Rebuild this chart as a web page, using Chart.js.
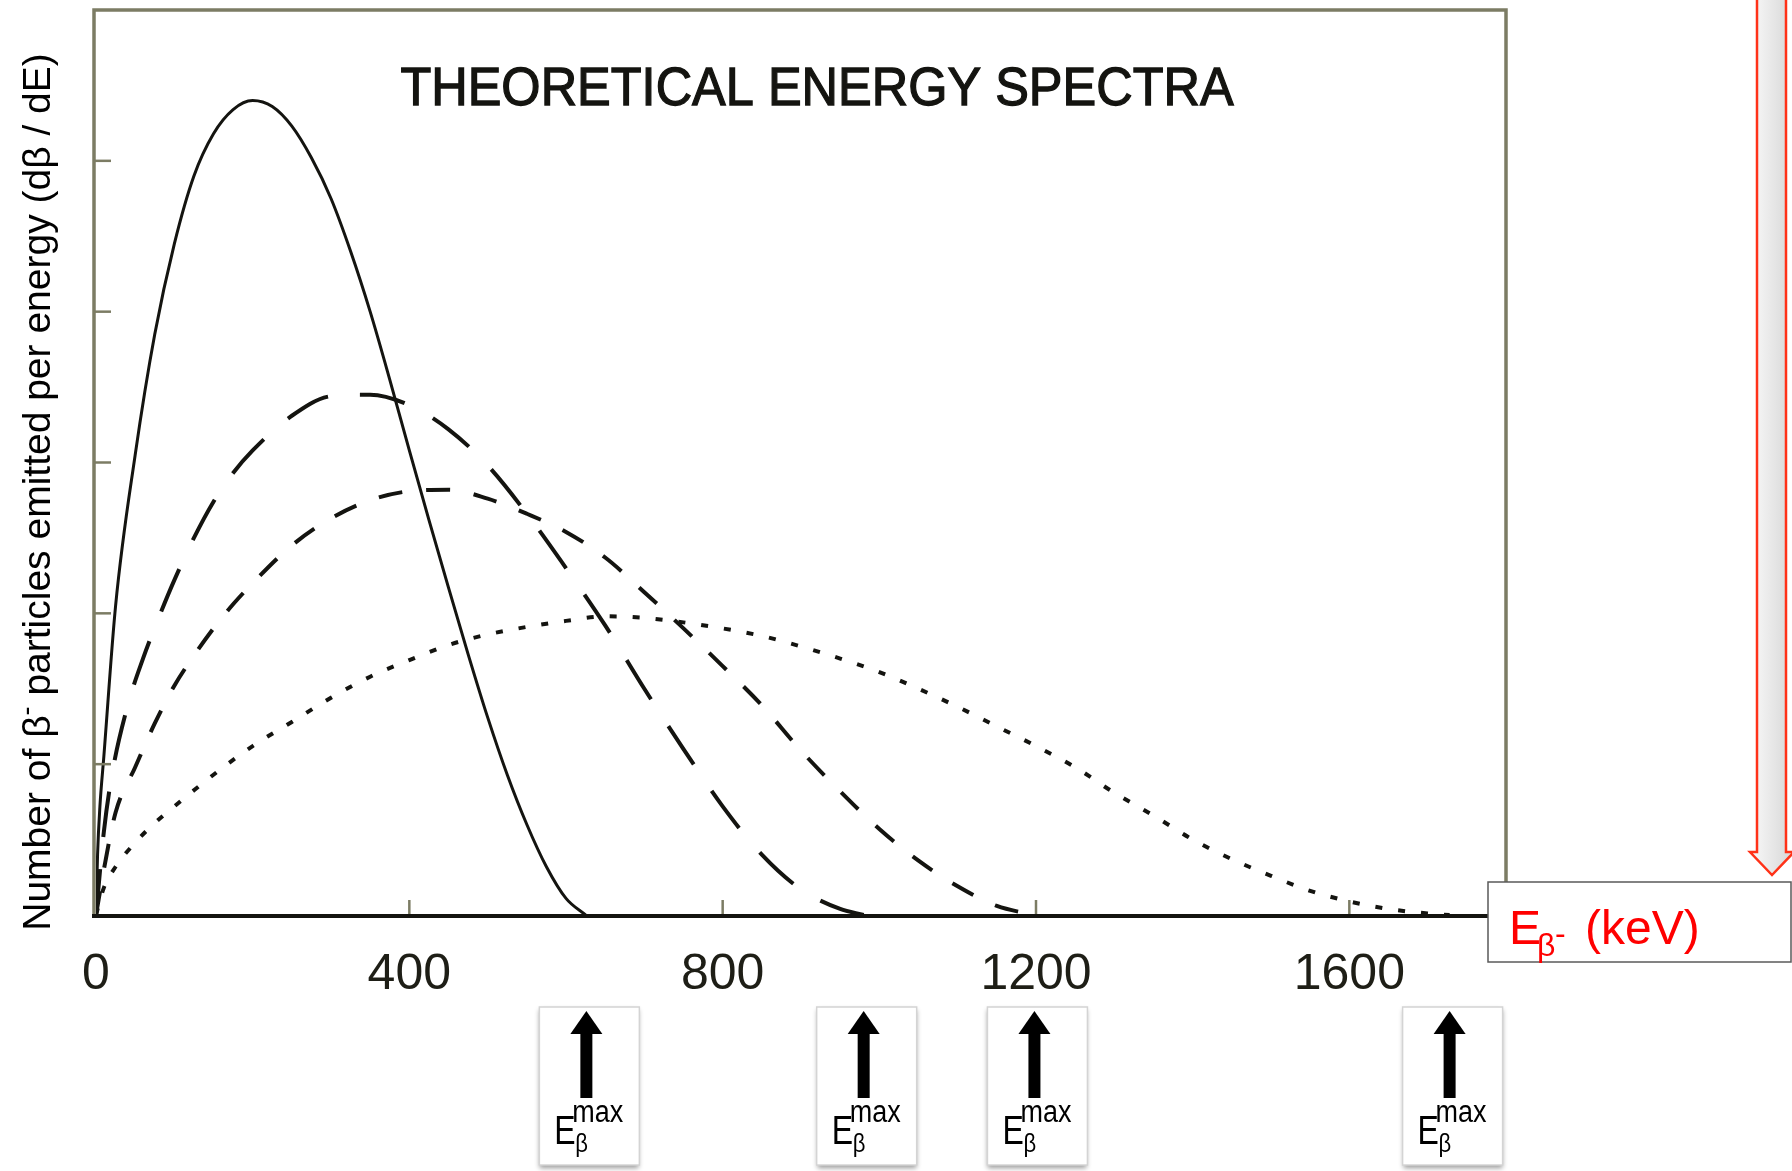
<!DOCTYPE html>
<html lang="en">
<head>
  <meta charset="UTF-8" />
  <title>Theoretical Energy Spectra</title>
  <style>
    body {
      margin: 0;
      background: #ffffff;
    }
    #spectra {
      display: block;
    }
  </style>
</head>
<body>
  <canvas id="spectra" width="1792" height="1171"></canvas>

  <script src="https://cdn.jsdelivr.net/npm/chart.js"></script>
  <script>
    // beta energy (keV) and dβ/dE for each spectrum
    const solidE = [0, 2, 5, 10, 25, 50, 75, 100, 125, 150, 175, 200, 225, 250, 275, 300, 325, 350, 375, 400, 425, 450, 475, 500, 525, 550, 575, 600, 625];
    const solidN = [0, 0.40, 0.72, 1.05, 2.05, 3.05, 3.85, 4.45, 4.90, 5.18, 5.34, 5.40, 5.36, 5.23, 5.02, 4.75, 4.40, 4.00, 3.55, 3.08, 2.62, 2.17, 1.73, 1.31, 0.93, 0.60, 0.32, 0.11, 0];

    const longE = [0, 10, 20, 40, 60, 80, 100, 125, 150, 175, 200, 250, 300, 350, 400, 450, 500, 550, 600, 650, 700, 750, 800, 850, 900, 950, 980];
    const longN = [0, 0.55, 0.92, 1.38, 1.70, 1.97, 2.22, 2.50, 2.74, 2.93, 3.08, 3.31, 3.44, 3.45, 3.38, 3.22, 2.98, 2.66, 2.30, 1.92, 1.50, 1.10, 0.72, 0.40, 0.17, 0.04, 0];

    const medE = [0, 10, 25, 50, 75, 100, 125, 150, 175, 200, 250, 300, 350, 400, 450, 500, 550, 600, 650, 700, 750, 800, 850, 900, 950, 1000, 1050, 1100, 1150, 1198];
    const medN = [0, 0.30, 0.68, 0.98, 1.27, 1.52, 1.72, 1.90, 2.06, 2.20, 2.45, 2.63, 2.75, 2.81, 2.82, 2.76, 2.66, 2.54, 2.37, 2.14, 1.90, 1.65, 1.39, 1.09, 0.82, 0.57, 0.36, 0.19, 0.06, 0];

    const dotE = [0, 10, 25, 50, 75, 100, 150, 200, 250, 300, 350, 400, 450, 500, 550, 600, 650, 700, 750, 800, 850, 900, 950, 1000, 1050, 1100, 1150, 1200, 1250, 1300, 1350, 1400, 1450, 1500, 1550, 1600, 1650, 1700, 1728];
    const dotN = [0, 0.18, 0.32, 0.48, 0.61, 0.72, 0.93, 1.12, 1.28, 1.44, 1.58, 1.69, 1.79, 1.86, 1.91, 1.95, 1.98, 1.97, 1.94, 1.90, 1.85, 1.78, 1.70, 1.61, 1.50, 1.38, 1.25, 1.12, 0.98, 0.81, 0.66, 0.50, 0.37, 0.26, 0.16, 0.09, 0.04, 0.01, 0];

    // endpoint energies marked under the axis
    const endpoints = [626, 980, 1198, 1728];

    const xTicks = [0, 400, 800, 1200, 1600];
    const yTicks = [1, 2, 3, 4, 5];

    const face = '"Liberation Sans", Arial, sans-serif';
    const ink = '#141410';
    const frame = '#7c7c64';

    const toPoints = (xs, ys) => xs.map((x, i) => ({ x: x, y: ys[i] }));

    // draw text squeezed horizontally, optionally thickened
    function squeeze(ctx, text, x, y, size, sx, weight) {
      ctx.save();
      ctx.translate(x, y);
      ctx.scale(sx, 1);
      ctx.font = size + 'px ' + face;
      ctx.fillText(text, 0, 0);
      if (weight) {
        ctx.strokeStyle = ctx.fillStyle;
        ctx.lineWidth = weight;
        ctx.strokeText(text, 0, 0);
      }
      const w = ctx.measureText(text).width * sx;
      ctx.restore();
      return w;
    }

    const decor = {
      id: 'decor',
      afterDatasetsDraw(chart) {
        const ctx = chart.ctx;
        const area = chart.chartArea;
        const xs = chart.scales.x;
        const ys = chart.scales.y;

        ctx.save();
        // plot frame
        ctx.strokeStyle = frame;
        ctx.lineWidth = 3.5;
        ctx.beginPath();
        ctx.moveTo(area.left - 2, area.bottom);
        ctx.lineTo(area.left - 2, area.top);
        ctx.lineTo(area.right, area.top);
        ctx.lineTo(area.right, area.bottom);
        ctx.stroke();

        // inward tick marks
        ctx.lineWidth = 2.5;
        yTicks.forEach(v => {
          const y = ys.getPixelForValue(v);
          ctx.beginPath();
          ctx.moveTo(area.left - 2, y);
          ctx.lineTo(area.left + 15, y);
          ctx.stroke();
        });
        xTicks.slice(1).forEach(v => {
          const x = xs.getPixelForValue(v);
          ctx.beginPath();
          ctx.moveTo(x, area.bottom);
          ctx.lineTo(x, area.bottom - 15);
          ctx.stroke();
        });

        // energy axis
        ctx.strokeStyle = ink;
        ctx.lineWidth = 4;
        ctx.beginPath();
        ctx.moveTo(area.left - 4, area.bottom + 1);
        ctx.lineTo(area.right + 2, area.bottom + 1);
        ctx.stroke();
        ctx.restore();
      },
      afterDraw(chart) {
        const ctx = chart.ctx;
        const xs = chart.scales.x;

        ctx.save();
        ctx.textBaseline = 'alphabetic';
        ctx.textAlign = 'left';

        // title inside the frame
        ctx.fillStyle = ink;
        ctx.font = '54px ' + face;
        const title = 'THEORETICAL ENERGY SPECTRA';
        const tw = ctx.measureText(title).width * 0.935;
        squeeze(ctx, title, 817 - tw / 2, 105, 54, 0.935, 1.3);

        // vertical axis label
        ctx.save();
        ctx.translate(50, 492);
        ctx.rotate(-Math.PI / 2);
        ctx.fillStyle = '#000000';
        const runs = [
          { text: 'Number of β', size: 39, dy: 0 },
          { text: '-', size: 27, dy: -15 },
          { text: ' particles emitted per energy (dβ / dE)', size: 39, dy: 0 }
        ];
        let total = 0;
        runs.forEach(r => {
          ctx.font = r.size + 'px ' + face;
          total += ctx.measureText(r.text).width;
        });
        let cx = -total / 2;
        runs.forEach(r => {
          ctx.font = r.size + 'px ' + face;
          ctx.fillText(r.text, cx, r.dy);
          cx += ctx.measureText(r.text).width;
        });
        ctx.restore();

        // endpoint markers below the axis
        endpoints.forEach(e => {
          const x = xs.getPixelForValue(e);
          ctx.save();
          ctx.shadowColor = 'rgba(0,0,0,0.4)';
          ctx.shadowBlur = 5;
          ctx.shadowOffsetY = 3;
          ctx.fillStyle = '#ffffff';
          ctx.fillRect(x - 47, 1007, 100, 158);
          ctx.restore();
          ctx.strokeStyle = '#d4d4d4';
          ctx.lineWidth = 1.5;
          ctx.strokeRect(x - 47, 1007, 100, 158);

          ctx.fillStyle = '#000000';
          ctx.fillRect(x - 6, 1032, 12, 66);
          ctx.beginPath();
          ctx.moveTo(x - 16, 1034);
          ctx.lineTo(x + 16, 1034);
          ctx.lineTo(x, 1011);
          ctx.closePath();
          ctx.fill();

          squeeze(ctx, 'E', x - 32, 1144, 41, 0.78);
          squeeze(ctx, 'max', x - 14, 1122, 31, 0.87);
          squeeze(ctx, 'β', x - 11, 1152, 26, 0.85);
        });

        // downward arrow along the right edge
        const grad = ctx.createLinearGradient(1757, 0, 1786, 0);
        grad.addColorStop(0, '#f4f4f4');
        grad.addColorStop(1, '#dcdcdc');
        ctx.fillStyle = grad;
        ctx.strokeStyle = '#ff3218';
        ctx.lineWidth = 2.5;
        ctx.beginPath();
        ctx.moveTo(1757, -5);
        ctx.lineTo(1757, 852);
        ctx.lineTo(1750, 852);
        ctx.lineTo(1772, 875);
        ctx.lineTo(1794, 852);
        ctx.lineTo(1786, 852);
        ctx.lineTo(1786, -5);
        ctx.closePath();
        ctx.fill();
        ctx.stroke();

        // energy unit box
        ctx.fillStyle = '#ffffff';
        ctx.fillRect(1488, 882, 303, 80);
        ctx.strokeStyle = '#5a5a5a';
        ctx.lineWidth = 1.5;
        ctx.strokeRect(1488, 882, 303, 80);

        ctx.fillStyle = '#ff0000';
        ctx.font = '48px ' + face;
        ctx.fillText('E', 1509, 944);
        ctx.font = '32px ' + face;
        ctx.fillText('β', 1537, 956);
        ctx.fillText('-', 1555, 944);
        ctx.font = '48px ' + face;
        ctx.fillText('(keV)', 1585, 944);

        ctx.restore();
      }
    };

    const ctx = document.getElementById('spectra').getContext('2d');

    const lineStyle = (xs, ys, width, dash) => ({
      data: toPoints(xs, ys),
      borderColor: ink,
      borderWidth: width,
      borderDash: dash,
      pointRadius: 0,
      cubicInterpolationMode: 'monotone',
      fill: false
    });

    const spectraChart = new Chart(ctx, {
      type: 'line',
      data: {
        datasets: [
          lineStyle(solidE, solidN, 3, []),
          lineStyle(longE, longN, 4, [46, 32]),
          lineStyle(medE, medN, 4, [24, 24]),
          lineStyle(dotE, dotN, 4, [7, 16])
        ]
      },
      options: {
        responsive: false,
        devicePixelRatio: 1,
        animation: false,
        layout: {
          padding: { left: 96, right: 286, top: 10, bottom: 0 }
        },
        plugins: {
          legend: { display: false },
          tooltip: { enabled: false }
        },
        scales: {
          x: {
            type: 'linear',
            min: 0,
            max: 1800,
            afterBuildTicks: scale => {
              scale.ticks = xTicks.map(v => ({ value: v }));
            },
            afterFit: scale => {
              scale.height = 256;
            },
            grid: { display: false, drawTicks: false },
            border: { display: false },
            ticks: {
              color: '#1e1e16',
              font: { family: face, size: 50 },
              padding: 30,
              maxRotation: 0,
              autoSkip: false,
              callback: value => String(value)
            }
          },
          y: {
            display: false,
            min: 0,
            max: 6
          }
        }
      },
      plugins: [decor]
    });
  </script>
</body>
</html>
